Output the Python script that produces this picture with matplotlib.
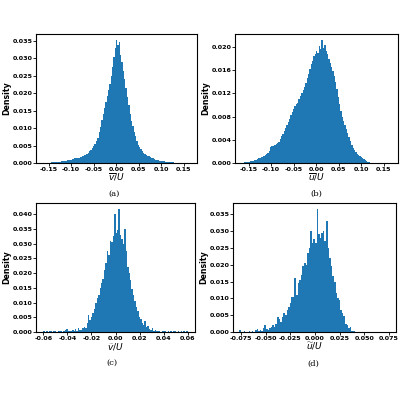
import numpy as np
import matplotlib
matplotlib.use("Agg")
import matplotlib.pyplot as plt

# bin heights, in units of 1e-3
vbar_lo, vbar_hi = -0.165, 0.165
vbar_h = [0.05, 0.0, 0.08, 0.05, 0.1, 0.12, 0.1, 0.15, 0.2, 0.15,
          0.25, 0.3, 0.35, 0.3, 0.45, 0.5, 0.55, 0.6, 0.7, 0.8,
          0.85, 1.0, 1.1, 1.05, 1.3, 1.35, 1.4, 1.5, 1.7, 1.8,
          2.0, 2.2, 2.4, 2.6, 2.9, 3.3, 3.7, 4.2, 4.8, 5.4,
          6.2, 7.3, 8.8, 10.3, 12.2, 14.0, 15.8, 17.5, 19.3, 21.0,
          22.6, 25.0, 27.5, 30.5, 33.0, 35.2, 33.8, 34.6, 31.0, 29.0,
          26.5, 24.0, 21.5, 19.0, 16.5, 14.0, 12.0, 10.5, 9.0, 7.6,
          6.4, 5.3, 4.6, 4.0, 3.4, 3.0, 2.7, 2.4, 2.1, 1.9,
          1.7, 1.5, 1.3, 1.2, 1.0, 0.9, 0.8, 0.65, 0.6, 0.5,
          0.45, 0.35, 0.3, 0.3, 0.25, 0.2, 0.15, 0.15, 0.12, 0.1,
          0.08, 0.05, 0.06, 0.03, 0.04, 0.02, 0.03, 0.01, 0.02, 0.01]

ubar_lo, ubar_hi = -0.159, 0.120
ubar_h = [0.2, 0.15, 0.25, 0.2, 0.3, 0.35, 0.4, 0.45, 0.6, 0.7,
          0.8, 0.9, 1.0, 1.05, 1.2, 1.3, 1.5, 1.7, 2.1, 2.8,
          2.9, 2.9, 3.1, 3.3, 3.4, 3.7, 4.1, 4.6, 5.0, 5.5,
          6.1, 6.6, 7.1, 7.6, 8.2, 8.8, 9.4, 9.9, 10.2, 10.4,
          11.0, 11.6, 12.1, 12.6, 13.1, 13.8, 14.6, 15.4, 16.2, 17.0,
          17.6, 18.4, 18.8, 19.3, 19.0, 20.2, 19.6, 21.2, 19.8, 20.3,
          19.4, 18.8, 18.0, 17.3, 16.6, 15.8, 15.0, 14.0, 12.8, 11.4,
          10.2, 9.0, 8.0, 7.3, 6.5, 5.8, 5.2, 4.5, 3.8, 3.1,
          2.6, 2.2, 1.9, 1.6, 1.4, 1.2, 1.0, 0.9, 0.7, 0.5,
          0.35, 0.2, 0.1]

vtil_lo, vtil_hi = -0.060, 0.060
vtil_h = [0.4, 0, 0.3, 0, 0.3, 0.4, 0, 0.3, 0.4, 0,
          0.3, 0.5, 0.3, 0, 0.4, 0.8, 1.1, 0.3, 0.5, 0.4,
          0.6, 0.3, 0.9, 0.5, 1.2, 0.8, 0.6, 1.3, 1.8, 1.4,
          3.0, 5.8, 4.2, 5.0, 6.5, 7.8, 10.0, 11.5, 12.5, 15.0,
          16.5, 18.0, 21.0, 23.5, 27.5, 26.0, 31.0, 30.5, 32.5, 40.2,
          33.5, 34.5, 41.7, 33.0, 31.5, 30.0, 35.0, 27.5, 22.0, 20.0,
          17.5, 14.5, 12.5, 10.5, 8.5, 7.0, 5.2, 4.5, 3.2, 2.5,
          3.8, 1.6, 2.2, 1.0, 0.8, 1.2, 0.4, 0.6, 0.3, 0.5,
          0.3, 0, 0.4, 0.3, 0.2, 0, 0.3, 0, 0.3, 0,
          0.2, 0.3, 0, 0.2, 0, 0.3, 0, 0.2, 0, 0.3]

util_lo, util_hi = -0.0768, 0.0400
util_h = [0.5, 0, 0, 0.3, 0, 0, 0.4, 0, 0.3, 0,
          0.5, 0.9, 0.3, 0.6, 0.4, 1.2, 2.0, 0.8, 0.6, 1.2,
          1.5, 2.0, 1.4, 2.5, 4.5, 3.8, 3.0, 4.5, 5.5, 5.0,
          6.5, 7.5, 8.5, 10.5, 10.5, 16.0, 11.0, 14.5, 15.5, 17.0,
          19.5, 20.5, 20.0, 23.5, 25.0, 30.0, 26.5, 27.5, 26.5, 36.5,
          29.0, 28.0, 29.5, 30.0, 27.0, 33.0, 25.0, 22.0, 19.5, 16.5,
          15.0, 11.5, 10.0, 9.5, 6.5, 5.5, 4.8, 2.5, 2.0, 1.2,
          1.5, 0.4, 0.3]

panels = [
    (vbar_lo, vbar_hi, vbar_h, r"$\overline{v}/U$", "(a)",
     (-0.178, 0.18), [-0.15, -0.10, -0.05, 0.00, 0.05, 0.10, 0.15], "%.2f",
     [0.0, 0.005, 0.010, 0.015, 0.020, 0.025, 0.030, 0.035], "%.3f"),
    (ubar_lo, ubar_hi, ubar_h, r"$\overline{u}/U$", "(b)",
     (-0.18, 0.182), [-0.15, -0.10, -0.05, 0.00, 0.05, 0.10, 0.15], "%.2f",
     [0.0, 0.004, 0.008, 0.012, 0.016, 0.020], "%.3f"),
    (vtil_lo, vtil_hi, vtil_h, r"$\widetilde{v}/U$", "(c)",
     (-0.066, 0.066), [-0.06, -0.04, -0.02, 0.00, 0.02, 0.04, 0.06], "%.2f",
     [0.0, 0.005, 0.010, 0.015, 0.020, 0.025, 0.030, 0.035, 0.040], "%.3f"),
    (util_lo, util_hi, util_h, r"$\widetilde{u}/U$", "(d)",
     (-0.083, 0.082), [-0.075, -0.050, -0.025, 0.000, 0.025, 0.050, 0.075], "%.3f",
     [0.0, 0.005, 0.010, 0.015, 0.020, 0.025, 0.030, 0.035], "%.3f"),
]

# axes boxes [left, bottom, width, height] in figure fraction
boxes = [[0.09, 0.5925, 0.4025, 0.3225],
         [0.5875, 0.5925, 0.4075, 0.3225],
         [0.09, 0.17, 0.3975, 0.3225],
         [0.5825, 0.17, 0.4075, 0.3225]]
caps = [(0.285, 0.515), (0.79, 0.515), (0.28, 0.092), (0.783, 0.09)]

fig = plt.figure(figsize=(4, 4), dpi=100)

for (lo, hi, h, xl, cap, xlim, xt, xf, yt, yf), box, cp in zip(panels, boxes, caps):
    ax = fig.add_axes(box)
    h = np.array(h) * 1e-3
    edges = np.linspace(lo, hi, len(h) + 1)
    centers = 0.5 * (edges[:-1] + edges[1:])
    ax.hist(centers, bins=edges, weights=h, color="#1f77b4")
    ax.set_xlim(*xlim)
    ax.set_ylim(0, max(h) * 1.05)
    ax.set_xticks(xt)
    ax.set_xticklabels([xf % v for v in xt])
    ax.set_yticks(yt)
    ax.set_yticklabels([yf % v for v in yt])
    ax.tick_params(labelsize=4.6, length=2, width=0.6, pad=0.6)
    for lab in ax.get_xticklabels() + ax.get_yticklabels():
        lab.set_fontweight("bold")
    ax.set_ylabel("Density", fontsize=5.7, fontweight="bold")
    # right edge of the rotated label ~25 px left of the spine
    ax.yaxis.set_label_coords(-25.0 / (box[2] * 400), 0.5)
    ax.set_xlabel(xl, fontsize=6.5, labelpad=0)
    for s in ax.spines.values():
        s.set_linewidth(0.8)
    fig.text(cp[0], cp[1], cap, fontsize=6, family="DejaVu Serif",
             ha="center", va="center")

fig.savefig("out.png", dpi=100)
